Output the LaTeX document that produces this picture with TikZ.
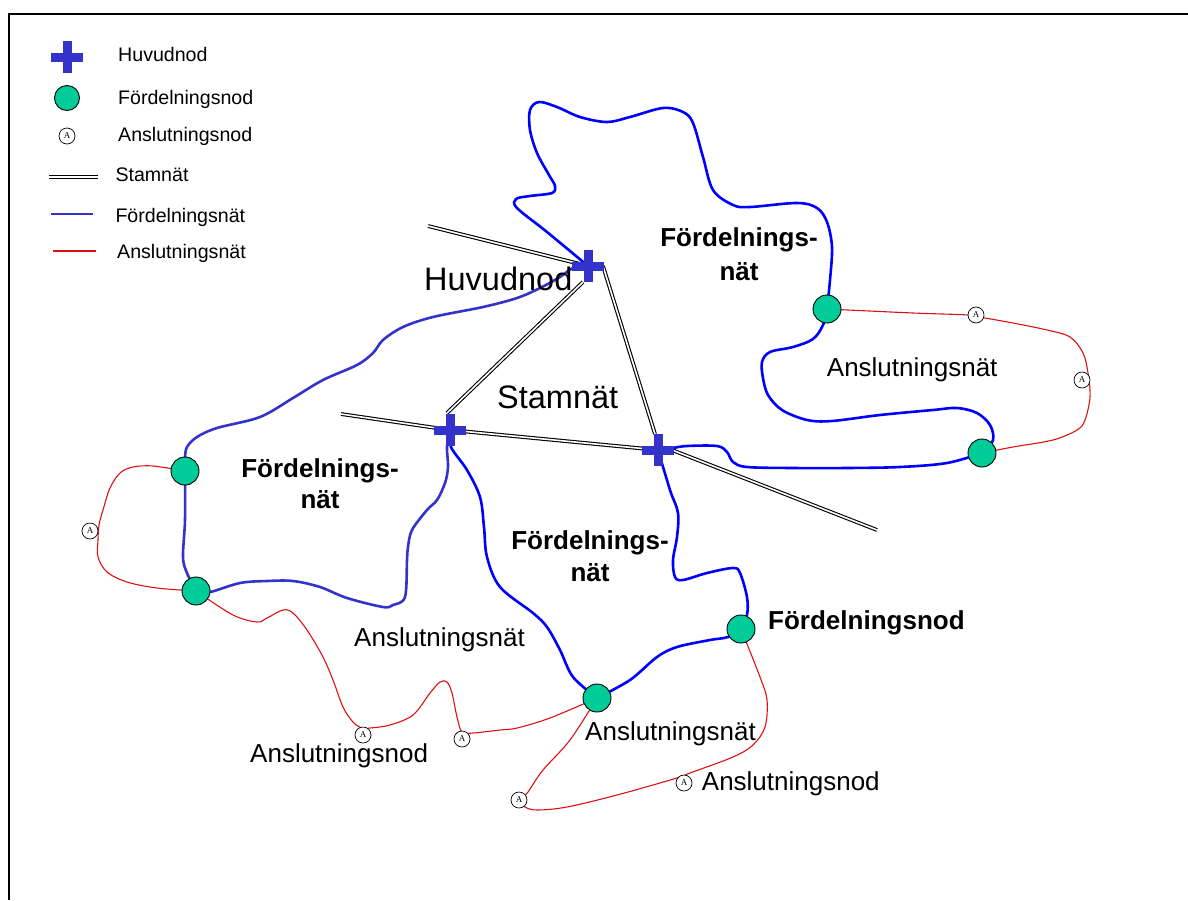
\documentclass[tikz,border=0pt]{standalone}
\usepackage{fontspec}
\setmainfont{Liberation Sans}
\newfontfamily\serifA{Liberation Serif}
\usetikzlibrary{calc}
\definecolor{hubblue}{HTML}{3333CC}
\definecolor{netblue}{HTML}{0000FF}
\definecolor{fgreen}{HTML}{00CC99}
\definecolor{netred}{HTML}{DD1111}
\tikzset{
  hubcross/.pic={\fill[hubblue] (-16,-4.5) rectangle (16,4.5); \fill[hubblue] (-4.5,-16) rectangle (4.5,16);},
  fnode/.style={circle, draw=black, line width=0.9pt, fill=fgreen, minimum size=28pt, inner sep=0pt},
  anode/.style={circle, draw=black, line width=0.7pt, fill=white, minimum size=16pt, inner sep=0pt, font=\serifA\fontsize{9}{9}\selectfont},
  stam/.style={draw=black, double=white, line width=1.1pt, double distance=1.6pt},
  fnet/.style={draw=netblue, line width=2.6pt, line join=round},
  lnet/.style={draw=hubblue, line width=2.6pt, line join=round},
  anet/.style={draw=netred, line width=1.1pt},
  bigtxt/.style={font=\fontsize{32.5}{36}\selectfont, anchor=base west, inner sep=0pt},
  midtxt/.style={font=\fontsize{26}{30}\selectfont, anchor=base west, inner sep=0pt},
  boldtxt/.style={font=\bfseries\fontsize{26}{30}\selectfont, anchor=base, inner sep=0pt},
  legtxt/.style={font=\fontsize{19.6}{22}\selectfont, anchor=base west, inner sep=0pt},
}
\begin{document}
\begin{tikzpicture}[x=1pt,y=-1pt]
\useasboundingbox (0,0) rectangle (1188,900);
\draw[line width=2pt] (9,900) -- (9,14) -- (1188,14);

% positions
\coordinate (h1) at (588,266);
\coordinate (h2) at (450,430);
\coordinate (h3) at (658,450);
\coordinate (f1) at (827,309);
\coordinate (f2) at (982,453);
\coordinate (f3) at (741,629);
\coordinate (f4) at (597,698);
\coordinate (f5) at (185,471);
\coordinate (f6) at (196,591);
\coordinate (s1) at (428,226);
\coordinate (s2) at (341,414);
\coordinate (s3) at (877,530);

% Stamnaet
\draw[stam] (s1) -- (h1);
\draw[stam] ($(h1)+(-5,16)$) -- ($(h2)+(-3,-17)$);
\draw[stam] ($(h1)+(15,0)$) -- ($(h3)+(-3,-16)$);
\draw[stam] (s2) -- (h2) -- (h3);
\draw[stam] ($(h3)+(14,0)$) -- (s3);

% Anslutningsnaet
\draw[anet] plot[smooth,tension=0.55] coordinates {(f1) (913,313) (968,315) (985,318) (1013,323) (1047,330) (1070,337) (1083,353) (1088,373) (1090,397) (1085,420) (1077,430) (1053,440) (1013,447) (f2)};
\draw[anet] plot[smooth,tension=0.55] coordinates {(f5) (153,466) (133,467) (120,473) (110,488) (103,510) (99,525) (98,540) (98,557) (107,572) (127,582) (157,588) (f6)};
\draw[anet] plot[smooth,tension=0.55] coordinates {(f6) (233,615) (257,622) (267,618) (283,610) (293,613) (307,630) (323,657) (333,680) (343,707) (353,722) (362,728) (370,728) (390,725) (413,715) (430,693) (440,682) (447,682) (452,693) (457,717) (462,732) (473,733) (500,730) (517,728) (550,718) (f4)};
\draw[anet] plot[smooth,tension=0.55] coordinates {(f4) (570,740) (543,770) (528,792) (521,801) (525,807) (537,810) (567,807) (617,795) (677,778) (690,773) (733,757) (753,745) (765,727) (767,700) (760,677) (f3)};

% Foerdelningsnaet
\draw[fnet] plot[smooth,tension=0.55] coordinates {(h1) (547,232) (517,208) (516,199) (530,196) (552,193) (555,186) (549,175) (537,153) (530,130) (530,110) (539,102) (557,107) (580,117) (607,122) (630,117) (663,108) (683,112) (693,123) (703,157) (713,190) (733,205) (750,207) (797,203) (817,208) (827,222) (832,247) (830,280) (f1)};
\draw[fnet] plot[smooth,tension=0.55] coordinates {(f1) (823,325) (813,339) (793,347) (770,352) (762,362) (763,378) (768,395) (782,410) (807,420) (832,421) (880,415) (933,410) (957,408) (977,413) (990,425) (993,440) (f2)};
\draw[fnet] plot[smooth,tension=0.55] coordinates {(f2) (947,463) (900,467) (847,468) (793,468) (747,467) (733,462) (727,452) (717,446) (687,446) (673,448) (h3)};
\draw[fnet] plot[smooth,tension=0.55] coordinates {(h3) (670,490) (678,513) (677,537) (673,560) (675,577) (683,580) (707,573) (733,568) (740,573) (747,597) (747,615) (f3)};
\draw[fnet] plot[smooth,tension=0.55] coordinates {(f3) (728,637) (710,640) (677,647) (657,657) (630,680) (f4)};
\draw[fnet] plot[smooth,tension=0.55] coordinates {(h2) (451,447) (467,470) (480,497) (484,527) (487,557) (500,587) (533,613) (547,627) (560,650) (573,677) (f4)};
\draw[lnet] plot[smooth,tension=0.55] coordinates {(h1) (573,268) (560,277) (540,288) (517,298) (483,307) (433,317) (403,327) (383,340) (373,353) (357,365) (323,380) (293,398) (260,417) (217,428) (197,437) (187,447) (185,458) (f5)};
\draw[lnet] plot[smooth,tension=0.55] coordinates {(f5) (185,520) (183,557) (187,573) (f6)};
\draw[lnet] plot[smooth,tension=0.55] coordinates {(f6) (210,592) (240,583) (267,581) (293,581) (320,587) (347,598) (383,607) (393,605) (405,597) (407,560) (408,547) (412,530) (427,510) (437,500) (445,483) (448,467) (447,447) (h2)};

% nodes
\pic at (h1) {hubcross};
\pic at (h2) {hubcross};
\pic at (h3) {hubcross};
\foreach \n in {f1,f2,f3,f4,f5,f6} \node[fnode] (n\n) at (\n) {};
\node[anode] (a1) at (976,315) {A};
\node[anode] (a2) at (1082,380) {A};
\node[anode] (a3) at (90,531) {A};
\node[anode] (a4) at (363,735) {A};
\node[anode] (a5) at (462,739) {A};
\node[anode] (a6) at (519,800) {A};
\node[anode] (a7) at (684,783) {A};

% labels
\node[bigtxt] (lh) at (424,290.7) {Huvudnod};
\node[bigtxt] (ls) at (497,408.3) {Stamnät};
\node[boldtxt] (lf1a) at (739,246.7) {Fördelnings-};
\node[boldtxt] (lf1b) at (739,280) {nät};
\node[boldtxt] (lf2a) at (320,477.3) {Fördelnings-};
\node[boldtxt] (lf2b) at (320,508.3) {nät};
\node[boldtxt] (lf3a) at (590,549.5) {Fördelnings-};
\node[boldtxt] (lf3b) at (590,581) {nät};
\node[boldtxt, anchor=base west] (lfn) at (768,629.3) {Fördelningsnod};
\node[midtxt] (la1) at (826.7,376) {Anslutningsnät};
\node[midtxt] (la2) at (354,646.7) {Anslutningsnät};
\node[midtxt] (la3) at (585,740.7) {Anslutningsnät};
\node[midtxt] (lan1) at (250,762.7) {Anslutningsnod};
\node[midtxt] (lan2) at (701.7,790.7) {Anslutningsnod};

% legend
\coordinate (k1) at (67,57);
\pic at (k1) {hubcross};
\node[fnode, minimum size=25pt] (k2) at (67,98) {};
\node[anode] (k3) at (67,136) {A};
\coordinate (k4a) at (49,177); \coordinate (k4b) at (98,177);
\draw[stam] (k4a) -- (k4b);
\coordinate (k5a) at (51,214); \coordinate (k5b) at (93,214);
\draw[lnet] (k5a) -- (k5b);
\coordinate (k6a) at (53,251); \coordinate (k6b) at (96,251);
\draw[anet] (k6a) -- (k6b);
\node[legtxt] (t1) at (118,61.7) {Huvudnod};
\node[legtxt] (t2) at (118,104.3) {Fördelningsnod};
\node[legtxt] (t3) at (118,141.7) {Anslutningsnod};
\node[legtxt] (t4) at (115.3,181.7) {Stamnät};
\node[legtxt] (t5) at (115.3,222.7) {Fördelningsnät};
\node[legtxt] (t6) at (117,258.3) {Anslutningsnät};
\end{tikzpicture}
\end{document}
